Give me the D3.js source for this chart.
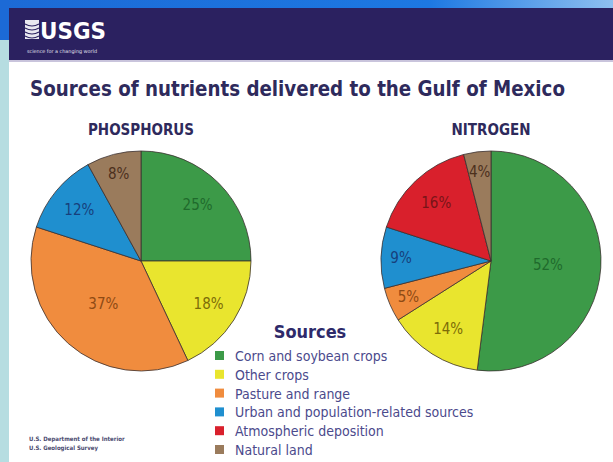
<!DOCTYPE html>
<html>
<head>
<meta charset="utf-8">
<script src="https://cdn.jsdelivr.net/npm/d3@7"></script>
<style>
  body { margin: 0; background: #fff; }
  svg { display: block; }
</style>
</head>
<body>
<script>
// data
var sources = ["Corn and soybean crops", "Other crops", "Pasture and range",
               "Urban and population-related sources", "Atmospheric deposition", "Natural land"];
var phosphorus = [25, 18, 37, 12, 0, 8];
var nitrogen = [52, 14, 5, 9, 16, 4];
var colors = ["#3c9a48", "#e9e52e", "#f08c3e", "#1f8fcf", "#d9202c", "#9a7b5c"];
var labelColors = ["#1f6a2c", "#7c6c08", "#8e4a14", "#173f7c", "#781418", "#4c301c"];

var w = 613;
var h = 462;
var navy = "#2b2160";
var cond = "'DejaVu Sans Condensed', 'Liberation Sans Narrow', sans-serif";

var svg = d3.select("body").append("svg").attr("width", w).attr("height", h);

// frame: blue band, cyan strip, navy header
svg.append("rect").attr("x", 0).attr("y", 0).attr("width", w).attr("height", h).attr("fill", "#ffffff");
var grad = svg.append("defs").append("linearGradient").attr("id", "band");
grad.append("stop").attr("offset", "0%").attr("stop-color", "#1c6ad6");
grad.append("stop").attr("offset", "70%").attr("stop-color", "#1d78e2");
grad.append("stop").attr("offset", "100%").attr("stop-color", "#8fc0f0");
svg.append("rect").attr("x", 0).attr("y", 0).attr("width", w).attr("height", 9).attr("fill", "url(#band)");
svg.append("rect").attr("x", 0).attr("y", 0).attr("width", 9).attr("height", 40).attr("fill", "#1c6ad6");
svg.append("rect").attr("x", 0).attr("y", 40).attr("width", 9).attr("height", h - 40).attr("fill", "#b6dde1");
svg.append("rect").attr("x", 9).attr("y", 8).attr("width", w - 9).attr("height", 52).attr("fill", navy);
svg.append("rect").attr("x", 9).attr("y", 60).attr("width", w - 9).attr("height", 2).attr("fill", "#c9c4dc");

// logo
var logo = svg.append("g");
logo.append("rect").attr("x", 25).attr("y", 20).attr("width", 14).attr("height", 19).attr("fill", "#e8e8f0");
[24, 28, 32, 36].forEach(function(y) {
    logo.append("path")
        .attr("d", "M25," + y + " Q32," + (y + 4) + " 39," + y)
        .attr("stroke", navy).attr("stroke-width", 1.2).attr("fill", "none");
});
logo.append("text").text("USGS")
    .attr("x", 40).attr("y", 39)
    .attr("font-family", cond).attr("font-weight", "bold").attr("font-size", "23px")
    .attr("fill", "#ffffff").attr("textLength", 66).attr("lengthAdjust", "spacingAndGlyphs");
logo.append("text").text("science for a changing world")
    .attr("x", 27).attr("y", 53)
    .attr("font-family", cond).attr("font-size", "5px")
    .attr("fill", "#e0e0ee").attr("textLength", 70).attr("lengthAdjust", "spacingAndGlyphs");

// title
svg.append("text").text("Sources of nutrients delivered to the Gulf of Mexico")
    .attr("x", 30).attr("y", 96)
    .attr("font-family", cond).attr("font-weight", "bold").attr("font-size", "22px")
    .attr("fill", "#2e2a5c").attr("textLength", 535).attr("lengthAdjust", "spacingAndGlyphs");

var pie = d3.pie().sort(null).value(function(d) { return d; });
var R = 110;
var arc = d3.arc().innerRadius(0).outerRadius(R);

function drawPie(name, values, cx, cy) {
    svg.append("text").text(name)
        .attr("x", cx).attr("y", 135)
        .attr("text-anchor", "middle")
        .attr("font-family", cond).attr("font-weight", "bold").attr("font-size", "15px")
        .attr("fill", "#2e2a5c");

    var g = svg.append("g").attr("transform", "translate(" + cx + "," + cy + ")");
    var arcs = pie(values).filter(function(d) { return d.value > 0; });

    g.selectAll("path")
        .data(arcs)
        .enter()
        .append("path")
        .attr("d", arc)
        .attr("fill", function(d) { return colors[d.index]; })
        .attr("stroke", "#3a3030")
        .attr("stroke-width", 0.8);

    g.selectAll("text")
        .data(arcs)
        .enter()
        .append("text")
        .text(function(d) { return d.value + "%"; })
        .attr("transform", function(d) {
            var r = d.value > 35 ? 57 : (d.value < 10 ? 90 : 80);
            var a = (d.startAngle + d.endAngle) / 2;
            return "translate(" + (Math.sin(a) * r) + "," + (-Math.cos(a) * r) + ")";
        })
        .attr("dy", "0.35em")
        .attr("text-anchor", "middle")
        .attr("font-family", cond).attr("font-size", "15px")
        .attr("fill", function(d) { return labelColors[d.index]; });
}

drawPie("PHOSPHORUS", phosphorus, 141, 261);
drawPie("NITROGEN", nitrogen, 491, 261);

// legend
svg.append("text").text("Sources")
    .attr("x", 310).attr("y", 338)
    .attr("text-anchor", "middle")
    .attr("font-family", cond).attr("font-weight", "bold").attr("font-size", "18px")
    .attr("fill", "#2e2a6a");

var legend = svg.selectAll(".leg")
    .data(sources)
    .enter()
    .append("g")
    .attr("class", "leg")
    .attr("transform", function(d, i) { return "translate(215," + (361 + i * 18.8) + ")"; });

legend.append("rect")
    .attr("x", 0).attr("y", -10)
    .attr("width", 9).attr("height", 9)
    .attr("fill", function(d, i) { return colors[i]; });

legend.append("text")
    .text(function(d) { return d; })
    .attr("x", 20).attr("y", 0)
    .attr("font-family", cond).attr("font-size", "14px")
    .attr("fill", "#4b4a8c");

// footer
svg.append("text").text("U.S. Department of the Interior")
    .attr("x", 29).attr("y", 441)
    .attr("font-family", cond).attr("font-weight", "bold").attr("font-size", "6px")
    .attr("fill", "#4a4a70");
svg.append("text").text("U.S. Geological Survey")
    .attr("x", 29).attr("y", 450)
    .attr("font-family", cond).attr("font-weight", "bold").attr("font-size", "6px")
    .attr("fill", "#4a4a70");
</script>
</body>
</html>
